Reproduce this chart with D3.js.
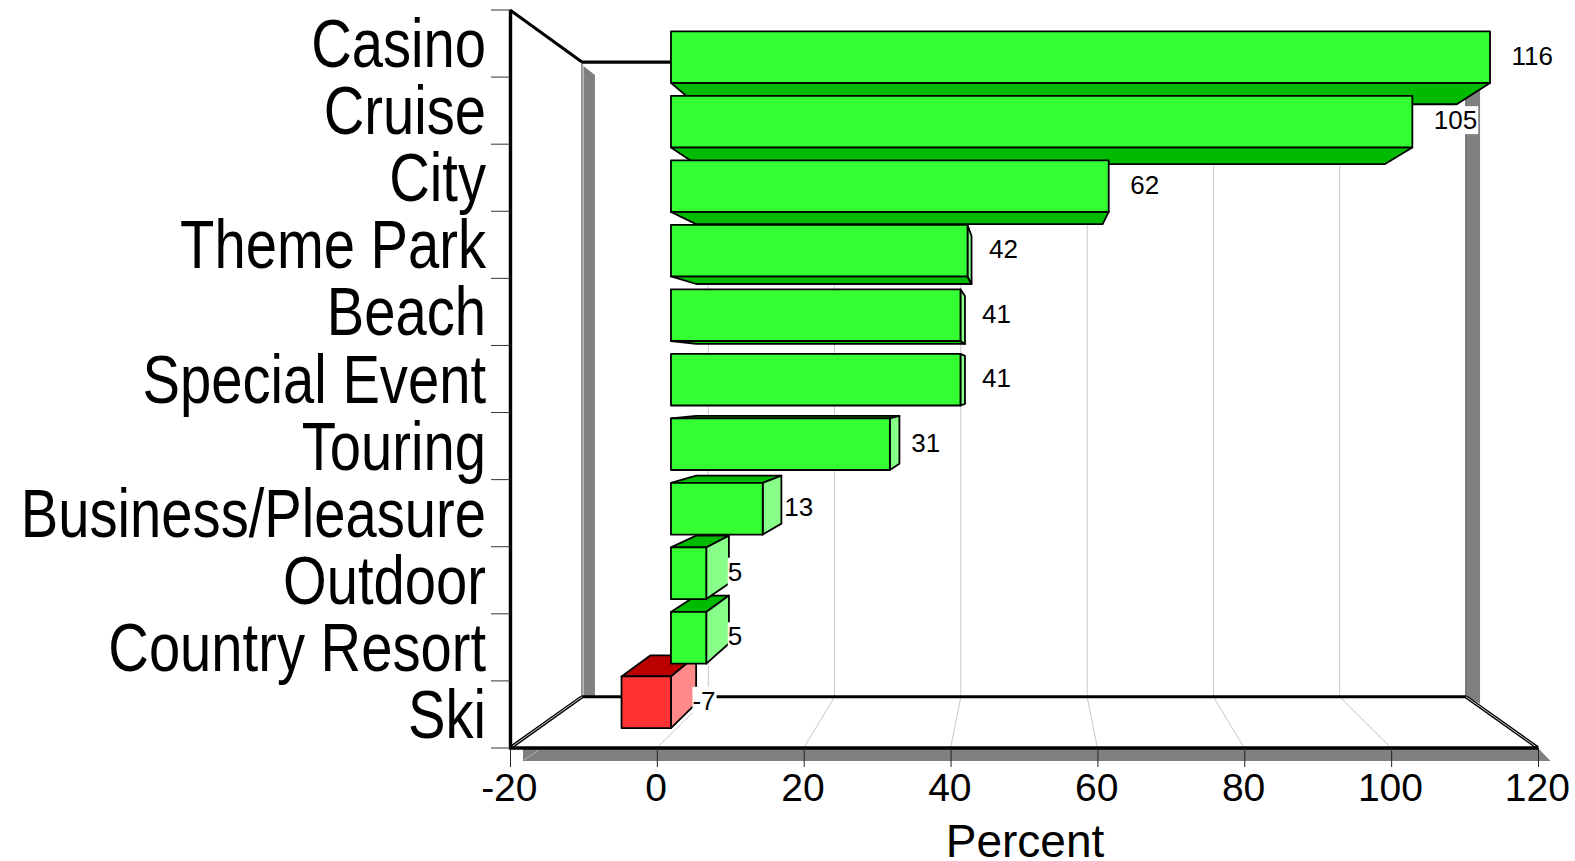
<!DOCTYPE html>
<html lang="en">
<head>
    <meta charset="UTF-8">
    <title>Percent by Travel Type</title>
    <script src="https://cdnjs.cloudflare.com/ajax/libs/d3/7.8.5/d3.min.js"></script>
    <style>
        html, body { margin: 0; padding: 0; background: #fff; }
        svg { display: block; font-family: "Liberation Sans", Arial, sans-serif; }
    </style>
</head>
<body>
    <svg id="chart" width="1575" height="861"></svg>

    <script>
        const categories = ['Casino', 'Cruise', 'City', 'Theme Park', 'Beach', 'Special Event',
            'Touring', 'Business/Pleasure', 'Outdoor', 'Country Resort', 'Ski'];
        const values = [116, 105, 62, 42, 41, 41, 31, 13, 5, 5, -7];
        const xTicks = [-20, 0, 20, 40, 60, 80, 100, 120];
        const axisTitle = 'Percent';

        const svg = d3.select('#chart');

        // front plane of the box
        const x = d3.scaleLinear().domain([-20, 120]).range([510, 1538]);
        const y = d3.scaleBand().domain(categories).range([10.6, 748.6])
            .paddingInner(0.2).paddingOuter(0.1);

        // perspective: everything shrinks toward one vanishing point
        const vp = { x: 1024, y: 382 };
        const depthWall = 0.86;
        const depthBarFront = 0.9616;
        const depthBarBack = 0.893;
        const project = (X, Y, s) => [vp.x + (X - vp.x) * s, vp.y + (Y - vp.y) * s];

        const yTop = y.range()[0] - 0.6, yBottom = y.range()[1] - 0.6;
        const xLeft = x(-20), xRight = x(120);

        const line = d3.line();
        const poly = pts => line(pts) + 'Z';

        const GRAY = '#808080';
        const backTL = project(xLeft, yTop, depthWall);
        const backBL = project(xLeft, yBottom, depthWall);
        const backBR = project(xRight, yBottom, depthWall);
        const backTR = project(xRight, yTop, depthWall);

        // wall shadows
        const gShadow = svg.append('g').attr('fill', GRAY);
        gShadow.append('path').attr('d', poly([
            [backTL[0] + 1.5, backTL[1] + 4], [backTL[0] + 13, backTL[1] + 13],
            [backBL[0] + 13, backBL[1]], [backBL[0] + 1.5, backBL[1]]
        ]));
        gShadow.append('path').attr('d', poly([
            [backTR[0] + 1, backTR[1] + 13], [backTR[0] + 14, backTR[1] + 13],
            [backBR[0] + 14, backBR[1] + 7], [backBR[0] + 1, backBR[1]]
        ]));
        gShadow.append('path').attr('d', poly([
            [xLeft + 13, yBottom], [xRight, yBottom], [xRight + 12.5, yBottom + 13], [xLeft + 13, yBottom + 13]
        ]));
        svg.append('line')
            .attr('x1', xLeft + 14).attr('y1', yBottom + 12)
            .attr('x2', xLeft + 29).attr('y2', yBottom + 2)
            .attr('stroke', '#b0b0b0');

        // grid on the back wall and across the floor
        const gGrid = svg.append('g').attr('fill', 'none').attr('stroke', '#c8c8c8').attr('stroke-width', 1);
        xTicks.filter(v => v > -20 && v < 120).forEach(v => {
            const b = project(x(v), yBottom, depthWall);
            const t = project(x(v), yTop, depthWall);
            gGrid.append('path').attr('d', line([t, b, [x(v), yBottom]]));
        });

        // back frame
        const gFrame = svg.append('g').attr('fill', 'none').attr('stroke', '#000');
        gFrame.append('line')
            .attr('x1', backBL[0]).attr('y1', backBL[1])
            .attr('x2', backTL[0]).attr('y2', backTL[1])
            .attr('stroke', '#555').attr('stroke-width', 1.2);
        gFrame.append('line')
            .attr('x1', backBR[0]).attr('y1', backBR[1])
            .attr('x2', backTR[0]).attr('y2', backTR[1])
            .attr('stroke', '#222').attr('stroke-width', 1.2);
        gFrame.append('path').attr('stroke-width', 3.2).attr('d', line([backTL, backTR]));
        gFrame.append('path').attr('stroke-width', 3.2).attr('d', line([backBL, backBR]));
        gFrame.append('path').attr('stroke-width', 3).attr('d', line([[xLeft, yTop], backTL]));

        // floor side edges, double stroked
        [[[xLeft, yBottom], backBL], [[xRight, yBottom], backBR]].forEach(edge => {
            gFrame.append('path').attr('stroke-width', 3.4).attr('d', line(edge));
            gFrame.append('path').attr('stroke', '#d0d0d0').attr('stroke-width', 1).attr('d', line(edge));
        });

        // bars, painted from the outside toward the vanishing point
        const colorsPos = { front: '#33ff33', dark: '#00bb00', light: '#88ff88' };
        const colorsNeg = { front: '#ff3333', dark: '#bb0000', light: '#ff8888' };

        const bars = categories.map((c, i) => ({ name: c, value: values[i] }));
        const mid = d => Math.abs(y(d.name) + y.bandwidth() / 2 - vp.y);
        const order = bars.slice().sort((a, b) => mid(b) - mid(a));

        const gBars = svg.append('g').attr('stroke', '#000').attr('stroke-width', 1.8).attr('stroke-linejoin', 'round');
        order.forEach(d => {
            const colors = d.value < 0 ? colorsNeg : colorsPos;
            const X0 = x(Math.min(0, d.value)), X1 = x(Math.max(0, d.value));
            const Y0 = y(d.name), Y1 = Y0 + y.bandwidth();
            const f = (X, Y) => project(X, Y, depthBarFront);
            const b = (X, Y) => project(X, Y, depthBarBack);
            const g = gBars.append('g');

            if (Y0 > vp.y) {
                g.append('path').attr('fill', colors.dark)
                    .attr('d', poly([f(X0, Y0), f(X1, Y0), b(X1, Y0), b(X0, Y0)]));
            }
            if (Y1 < vp.y) {
                g.append('path').attr('fill', colors.dark)
                    .attr('d', poly([f(X0, Y1), f(X1, Y1), b(X1, Y1), b(X0, Y1)]));
            }
            if (X1 < vp.x) {
                g.append('path').attr('fill', colors.light)
                    .attr('d', poly([f(X1, Y0), f(X1, Y1), b(X1, Y1), b(X1, Y0)]));
            }
            g.append('path').attr('fill', colors.front)
                .attr('d', poly([f(X0, Y0), f(X1, Y0), f(X1, Y1), f(X0, Y1)]));
        });

        // value labels sit on white boxes
        const gLabels = svg.append('g').attr('font-size', 26).attr('fill', '#000');
        bars.forEach(d => {
            const Y = y(d.name) + y.bandwidth() / 2;
            const p = project(x(Math.max(0, d.value)), Y, depthBarFront);
            const text = gLabels.append('text')
                .attr('x', p[0] + 21.5)
                .attr('y', p[1] + 7.5)
                .text(d.value);
            const box = text.node().getBBox();
            gLabels.insert('rect', 'text:last-child')
                .attr('x', box.x).attr('y', box.y + 1)
                .attr('width', box.width + 1).attr('height', box.height - 2)
                .attr('fill', '#fff');
        });

        // front axis lines
        svg.append('path').attr('fill', 'none').attr('stroke', '#000').attr('stroke-width', 3.4)
            .attr('d', line([[xLeft + 0.5, yTop], [xLeft + 0.5, yBottom], [xRight, yBottom]]));

        // value axis
        const xAxis = svg.append('g')
            .attr('transform', `translate(0,${yBottom})`)
            .call(d3.axisBottom(x).tickValues(xTicks).tickFormat(String).tickSize(19).tickPadding(6));
        xAxis.select('.domain').remove();
        xAxis.selectAll('line').attr('stroke', '#222');
        xAxis.selectAll('text')
            .attr('dx', -1.2)
            .attr('font-size', 39)
            .attr('font-family', '"Liberation Sans", Arial, sans-serif')
            .attr('fill', '#000');

        svg.append('text')
            .attr('x', 1025).attr('y', 857)
            .attr('text-anchor', 'middle')
            .attr('font-size', 46)
            .text(axisTitle);

        // category axis: condensed labels, ticks on band edges
        const yAxis = svg.append('g')
            .attr('transform', `translate(${xLeft},0)`)
            .call(d3.axisLeft(y).tickSize(0));
        yAxis.select('.domain').remove();
        yAxis.selectAll('text')
            .attr('x', 0).attr('y', -1.5).attr('dy', '0.36em')
            .attr('transform', 'translate(-24,0) scale(0.826,1)')
            .attr('font-size', 68)
            .attr('font-family', '"Liberation Sans", Arial, sans-serif')
            .attr('fill', '#000');

        svg.append('g').attr('stroke', '#333').attr('stroke-width', 1)
            .selectAll('line').data(d3.range(categories.length + 1)).join('line')
            .attr('x1', xLeft - 19).attr('x2', xLeft)
            .attr('y1', i => yTop + i * y.step())
            .attr('y2', i => yTop + i * y.step());
    </script>
</body>
</html>
